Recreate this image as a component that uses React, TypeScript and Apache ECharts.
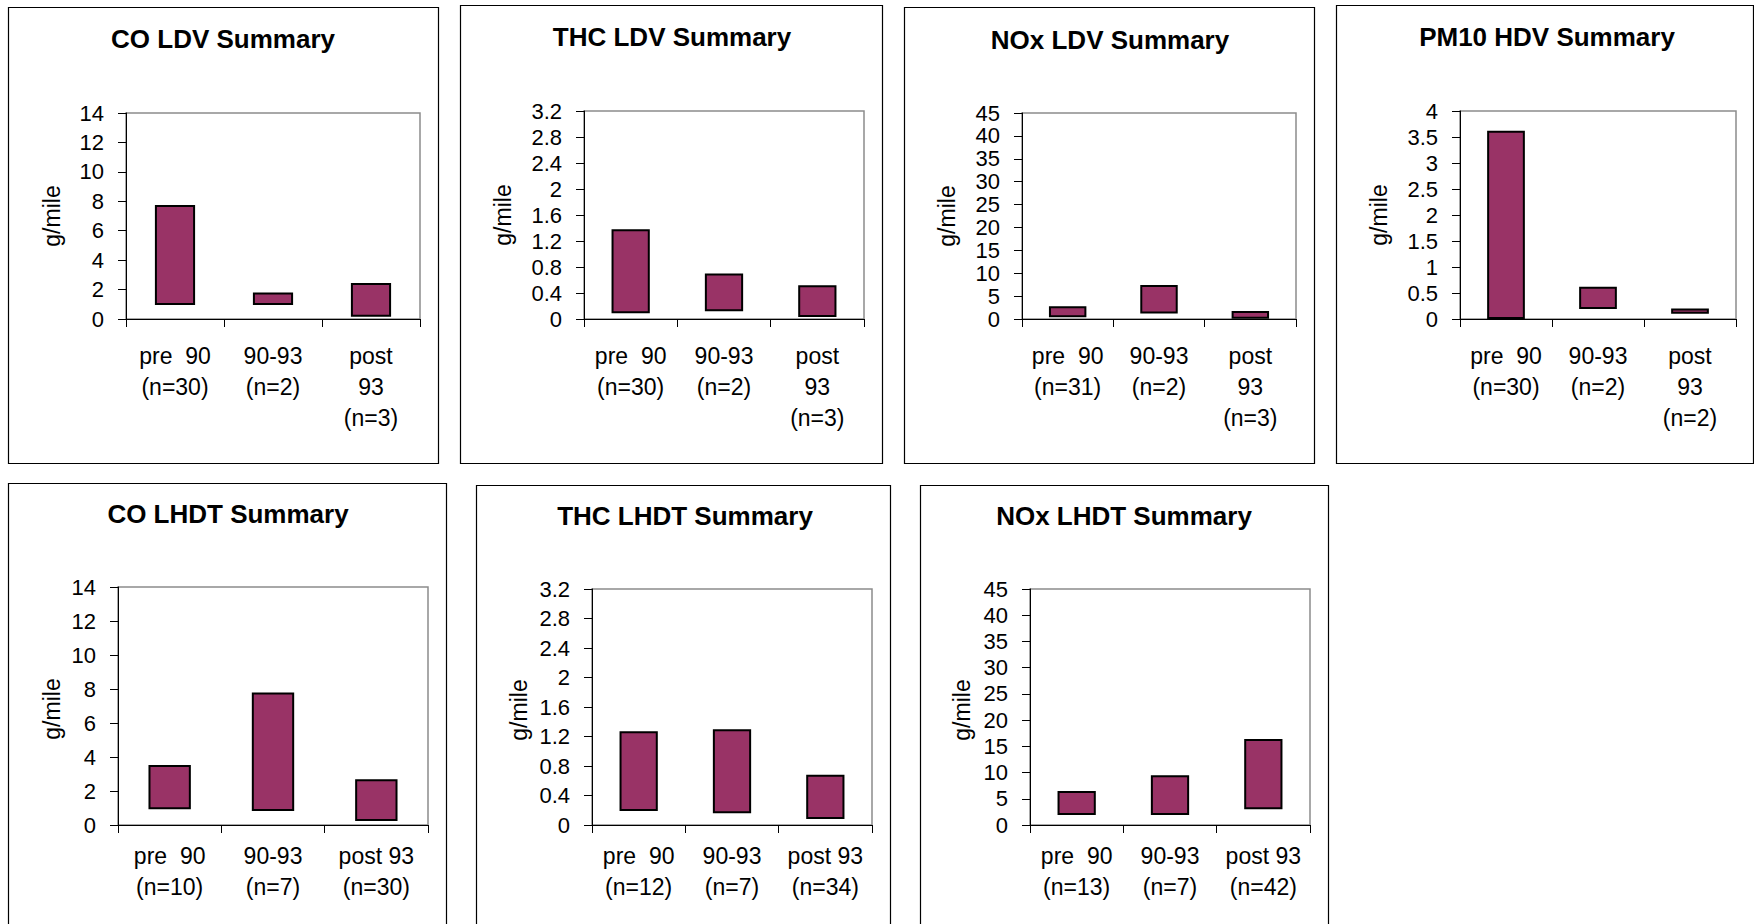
import React, { useEffect, useRef } from "react";
import * as echarts from "echarts";

// ---------- data ----------
const titles = [
  "CO LDV Summary",
  "THC LDV Summary",
  "NOx LDV Summary",
  "PM10 HDV Summary",
  "CO LHDT Summary",
  "THC LHDT Summary",
  "NOx LHDT Summary",
];

const catsCoLdv = ["pre  90\n(n=30)", "90-93\n(n=2)", "post\n93\n(n=3)"];
const catsThcLdv = ["pre  90\n(n=30)", "90-93\n(n=2)", "post\n93\n(n=3)"];
const catsNoxLdv = ["pre  90\n(n=31)", "90-93\n(n=2)", "post\n93\n(n=3)"];
const catsPm10Hdv = ["pre  90\n(n=30)", "90-93\n(n=2)", "post\n93\n(n=2)"];
const catsCoLhdt = ["pre  90\n(n=10)", "90-93\n(n=7)", "post 93\n(n=30)"];
const catsThcLhdt = ["pre  90\n(n=12)", "90-93\n(n=7)", "post 93\n(n=34)"];
const catsNoxLhdt = ["pre  90\n(n=13)", "90-93\n(n=7)", "post 93\n(n=42)"];

// low / high ends of each floating bar (g/mile)
const coLdvLow = [0.95, 0.95, 0.15];
const coLdvHigh = [7.75, 1.8, 2.45];
const thcLdvLow = [0.09, 0.12, 0.03];
const thcLdvHigh = [1.38, 0.7, 0.52];
const noxLdvLow = [0.4, 1.2, 0.05];
const noxLdvHigh = [2.8, 7.4, 1.75];
const pm10HdvLow = [0, 0.19, 0.1];
const pm10HdvHigh = [3.62, 0.62, 0.2];
const coLhdtLow = [0.92, 0.82, 0.24];
const coLhdtHigh = [3.53, 7.8, 2.69];
const thcLhdtLow = [0.19, 0.16, 0.08];
const thcLhdtHigh = [1.27, 1.3, 0.68];
const noxLhdtLow = [1.9, 1.9, 3.0];
const noxLhdtHigh = [6.5, 9.5, 16.4];

// y axis scales: [max, interval]
const yCo = [14, 2];
const yThc = [3.2, 0.4];
const yNox = [45, 5];
const yPm10 = [4, 0.5];

const yName = "g/mile";

// ---------- layout ----------
const FONT = 'Arial, "Liberation Sans", sans-serif';
const BAR_COLOR = "#993366";

const layouts = [
  { box: [8, 7, 430, 456], plot: [126, 113, 294, 206], title: [223, 39], yn: [52, 216], lm: 21 },
  { box: [460, 5, 422, 458], plot: [584, 111, 280, 208], title: [672, 37], yn: [503, 215], lm: 21 },
  { box: [904, 7, 410, 456], plot: [1022, 113, 274, 206], title: [1110, 40], yn: [947, 216], lm: 21 },
  { box: [1336, 5, 417, 458], plot: [1460, 111, 276, 208], title: [1547, 37], yn: [1379, 215], lm: 21 },
  { box: [8, 483, 438, 500], plot: [118, 587, 310, 238], title: [228, 514], yn: [52, 709], lm: 15 },
  { box: [476, 485, 414, 500], plot: [592, 589, 280, 236], title: [685, 516], yn: [519, 710], lm: 15 },
  { box: [920, 485, 408, 500], plot: [1030, 589, 280, 236], title: [1124, 516], yn: [962, 710], lm: 15 },
];

const panelData = [
  { cats: catsCoLdv, low: coLdvLow, high: coLdvHigh, y: yCo },
  { cats: catsThcLdv, low: thcLdvLow, high: thcLdvHigh, y: yThc },
  { cats: catsNoxLdv, low: noxLdvLow, high: noxLdvHigh, y: yNox },
  { cats: catsPm10Hdv, low: pm10HdvLow, high: pm10HdvHigh, y: yPm10 },
  { cats: catsCoLhdt, low: coLhdtLow, high: coLhdtHigh, y: yCo },
  { cats: catsThcLhdt, low: thcLhdtLow, high: thcLhdtHigh, y: yThc },
  { cats: catsNoxLhdt, low: noxLhdtLow, high: noxLhdtHigh, y: yNox },
];

function buildOption() {
  const grid: any[] = [];
  const xAxis: any[] = [];
  const yAxis: any[] = [];
  const series: any[] = [];
  const graphic: any[] = [];

  panelData.forEach((p, i) => {
    const L = layouts[i];
    grid.push({
      left: L.plot[0],
      top: L.plot[1],
      width: L.plot[2],
      height: L.plot[3],
      show: true,
      borderColor: "#8c8c8c",
      borderWidth: 1.5,
      backgroundColor: "transparent",
      containLabel: false,
    });
    xAxis.push({
      type: "category",
      gridIndex: i,
      data: p.cats,
      boundaryGap: true,
      axisLine: { show: true, lineStyle: { color: "#000", width: 1 } },
      axisTick: { show: true, length: 8, inside: false, lineStyle: { color: "#000" } },
      axisLabel: {
        interval: 0,
        color: "#000",
        fontFamily: FONT,
        fontSize: 23,
        lineHeight: 31,
        margin: L.lm,
      },
      splitLine: { show: false },
    });
    yAxis.push({
      type: "value",
      gridIndex: i,
      min: 0,
      max: p.y[0],
      interval: p.y[1],
      axisLine: { show: true, lineStyle: { color: "#000", width: 1 } },
      axisTick: { show: true, length: 8, inside: false, lineStyle: { color: "#000" } },
      axisLabel: {
        color: "#000",
        fontFamily: FONT,
        fontSize: 22,
        margin: 22,
      },
      splitLine: { show: false },
    });
    series.push({
      type: "bar",
      xAxisIndex: i,
      yAxisIndex: i,
      stack: "s" + i,
      silent: true,
      barWidth: "41%",
      itemStyle: { color: "rgba(0,0,0,0)", borderWidth: 0 },
      emphasis: { disabled: true },
      data: p.low,
    });
    series.push({
      type: "bar",
      xAxisIndex: i,
      yAxisIndex: i,
      stack: "s" + i,
      barWidth: "41%",
      itemStyle: { color: BAR_COLOR, borderColor: "#000", borderWidth: 2 },
      emphasis: { disabled: true },
      data: p.high.map((h, k) => +(h - p.low[k]).toFixed(4)),
    });

    graphic.push({
      type: "rect",
      shape: { x: L.box[0] + 0.5, y: L.box[1] + 0.5, width: L.box[2], height: L.box[3] },
      style: { fill: "none", stroke: "#000", lineWidth: 1.2 },
      silent: true,
      z: -10,
    });
    graphic.push({
      type: "text",
      x: L.title[0],
      y: L.title[1],
      style: {
        text: titles[i],
        fill: "#000",
        font: `bold 26px ${FONT}`,
        align: "center",
        verticalAlign: "middle",
      },
      silent: true,
    });
    graphic.push({
      type: "text",
      x: L.yn[0],
      y: L.yn[1],
      rotation: Math.PI / 2,
      style: {
        text: yName,
        fill: "#000",
        font: `23px ${FONT}`,
        align: "center",
        verticalAlign: "middle",
      },
      silent: true,
    });
  });

  return {
    animation: false,
    backgroundColor: "#fff",
    grid,
    xAxis,
    yAxis,
    series,
    graphic,
  };
}

export default function App() {
  const ref = useRef<HTMLDivElement>(null);
  useEffect(() => {
    if (!ref.current) return;
    const chart = echarts.init(ref.current, null, { renderer: "svg" });
    chart.setOption(buildOption() as any);
    return () => chart.dispose();
  }, []);
  return (
    <div
      ref={ref}
      style={{ position: "absolute", left: 0, top: 0, width: 1754, height: 924 }}
    />
  );
}
